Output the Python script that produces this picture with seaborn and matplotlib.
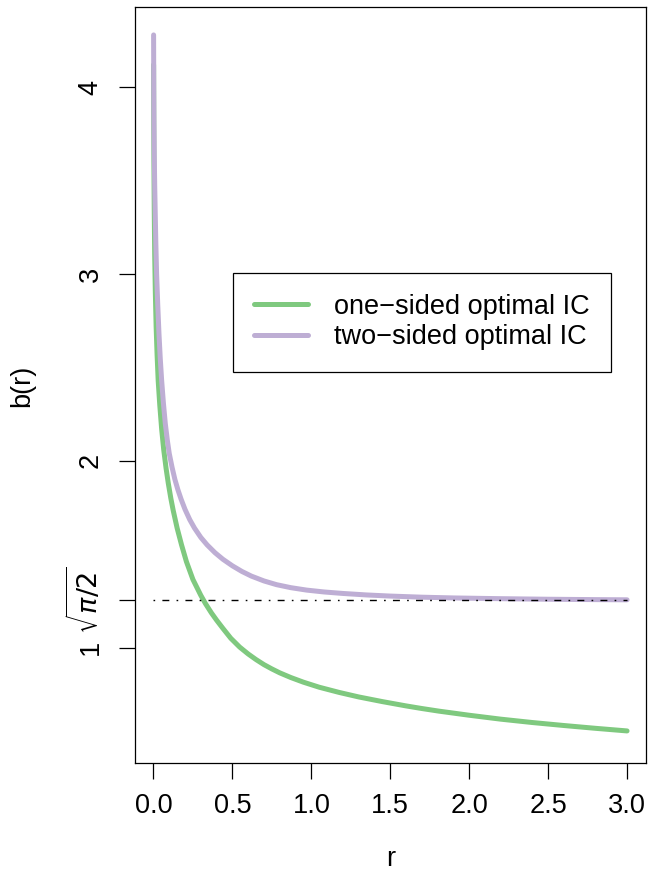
import numpy as np
import pandas as pd
import matplotlib
matplotlib.use("Agg")
import matplotlib.pyplot as plt
from matplotlib.lines import Line2D
import seaborn as sns

# values
r_two = [0.001, 0.002, 0.003, 0.005, 0.008, 0.011, 0.015, 0.02, 0.027, 0.035,
         0.043, 0.052, 0.063, 0.075, 0.088, 0.1, 0.118, 0.136, 0.155, 0.175,
         0.2, 0.23, 0.26, 0.3, 0.34, 0.39, 0.44, 0.5, 0.56, 0.62,
         0.7, 0.78, 0.87, 0.97, 1.08, 1.2, 1.35, 1.5, 1.7, 1.9,
         2.2, 2.5, 2.8, 3.0]
b_two = [4.28, 4.0, 3.85, 3.65, 3.47, 3.34, 3.17, 3.0, 2.84, 2.68,
         2.55, 2.43, 2.31, 2.2, 2.11, 2.04, 1.965, 1.9, 1.845, 1.795,
         1.74, 1.685, 1.64, 1.59, 1.55, 1.508, 1.473, 1.438, 1.408, 1.383,
         1.357, 1.337, 1.321, 1.308, 1.298, 1.29, 1.282, 1.276, 1.27, 1.266,
         1.262, 1.259, 1.257, 1.256]

r_one = [0.001, 0.002, 0.003, 0.005, 0.008, 0.012, 0.017, 0.023, 0.03, 0.04,
         0.052, 0.065, 0.08, 0.094, 0.11, 0.125, 0.15, 0.178, 0.209, 0.25,
         0.3, 0.33, 0.367, 0.4, 0.44, 0.49, 0.546, 0.6, 0.65, 0.7,
         0.75, 0.8, 0.87, 0.95, 1.05, 1.177, 1.3, 1.45, 1.6, 1.7,
         1.808, 2.0, 2.2, 2.4, 2.6, 2.8, 3.0]
b_one = [4.12, 3.8, 3.6, 3.35, 3.1, 2.9, 2.72, 2.57, 2.43, 2.3,
         2.17, 2.06, 1.96, 1.88, 1.8, 1.735, 1.64, 1.55, 1.46, 1.365,
         1.28, 1.235, 1.186, 1.147, 1.103, 1.05, 1.003, 0.966, 0.936, 0.909,
         0.886, 0.865, 0.84, 0.815, 0.788, 0.76, 0.736, 0.711, 0.688, 0.674,
         0.66, 0.638, 0.617, 0.599, 0.583, 0.568, 0.554]

labels = ["one\u2212sided optimal IC", "two\u2212sided optimal IC"]
colors = sns.color_palette("Accent", 2)

df = pd.concat([
    pd.DataFrame({"r": r_one, "b": b_one, "kind": labels[0]}),
    pd.DataFrame({"r": r_two, "b": b_two, "kind": labels[1]}),
])

plt.rcParams["font.family"] = ["Liberation Sans", "DejaVu Sans"]
fs = 19.5
fig = plt.figure(figsize=(6.49, 8.72), dpi=100)
ax = fig.add_axes([134.5 / 649, 1 - 762.5 / 872, (646 - 134.5) / 649, (762.5 - 7.3) / 872])

sns.lineplot(data=df, x="r", y="b", hue="kind", palette=colors, linewidth=3.6,
             sort=False, estimator=None, ax=ax, legend=False,
             solid_capstyle="round", solid_joinstyle="round")

bmin = np.sqrt(np.pi / 2)
ax.plot([0, 3], [bmin, bmin], color="black", linewidth=1.0,
        linestyle=(0, (1.2, 5.2, 5.0, 5.2)))

ax.set_xlim(-0.12, 3.12)
ax.set_ylim(0.385, 4.428)
ax.set_xticks([0, 0.5, 1, 1.5, 2, 2.5, 3])
ax.set_xticklabels(["0.0", "0.5", "1.0", "1.5", "2.0", "2.5", "3.0"])
ax.set_yticks([1, bmin, 2, 3, 4])
ax.set_yticklabels(["1", r"$\sqrt{\pi/2}$", "2", "3", "4"])
ax.tick_params(axis="both", length=11.3, width=0.9, color="black", labelsize=fs)
ax.tick_params(axis="x", pad=11)
ax.tick_params(axis="y", pad=11)
for lab in ax.get_yticklabels():
    lab.set_rotation(90)
    lab.set_va("center")
for s in ax.spines.values():
    s.set_color("black")
    s.set_linewidth(0.9)
ax.set_xlabel("")
ax.set_ylabel("")

fig.text(22 / 649, 1 - 386 / 872, "b(r)", rotation=90, ha="center", va="center", fontsize=fs)
fig.text(391 / 649, 1 - 859 / 872, "r", ha="center", va="center", fontsize=fs)

handles = [Line2D([], [], color=colors[0], linewidth=3.6, solid_capstyle="round"),
           Line2D([], [], color=colors[1], linewidth=3.6, solid_capstyle="round")]
leg = ax.legend(handles, labels, loc="upper left",
                bbox_to_anchor=((233 - 134.5) / 511.5, (762.5 - 272.7) / 755.2),
                fontsize=fs, frameon=True, fancybox=False, framealpha=1,
                edgecolor="black", handlelength=2.0, handletextpad=0.95,
                borderpad=0.78, labelspacing=0.17, borderaxespad=0)
leg.get_frame().set_linewidth(0.9)

fig.savefig("out.png", dpi=100)
